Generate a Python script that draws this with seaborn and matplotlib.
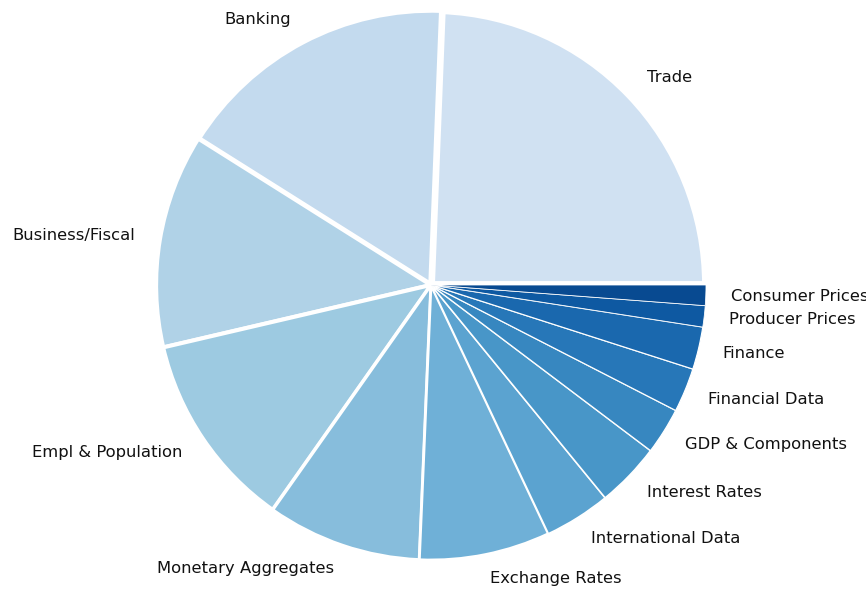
import matplotlib
matplotlib.use("Agg")
import matplotlib.pyplot as plt
import seaborn as sns
import numpy as np

categories = ["Trade", "Banking", "Business/Fiscal", "Empl & Population",
              "Monetary Aggregates", "Exchange Rates", "International Data",
              "Interest Rates", "GDP & Components", "Financial Data",
              "Finance", "Producer Prices", "Consumer Prices"]
values = [24.4, 16.7, 12.6, 11.6, 9.1, 7.7, 3.9, 3.8, 2.75, 2.6, 2.5, 1.25, 1.2]

sns.set_theme(style="white")
plt.rcParams['font.family'] = ['DejaVu Sans']

cmap = sns.color_palette("Blues", as_cmap=True)
colors = [cmap(x) for x in np.linspace(0.2, 0.9, len(values))]

fig = plt.figure(figsize=(8.66, 5.93), dpi=100)
W, H = 866, 593
cx, cy, r = 431, 285, 275
ax = fig.add_axes([(cx - r) / W, (H - cy - r) / H, 2 * r / W, 2 * r / H])

wedges, texts = ax.pie(values, labels=categories, colors=colors, startangle=0,
                       counterclock=True, labeldistance=1.09, radius=1.0,
                       textprops=dict(fontsize=11.8, color="#111111"))
for w, v in zip(wedges, values):
    w.set_edgecolor("white")
    w.set_linewidth(0.3 + 0.22 * v)
    w.set_clip_on(False)
for t in texts:
    t.set_clip_on(False)

ax.set_xlim(-1, 1)
ax.set_ylim(-1, 1)
ax.set_aspect("equal")
ax.axis("off")

fig.savefig("out.png", dpi=100)
